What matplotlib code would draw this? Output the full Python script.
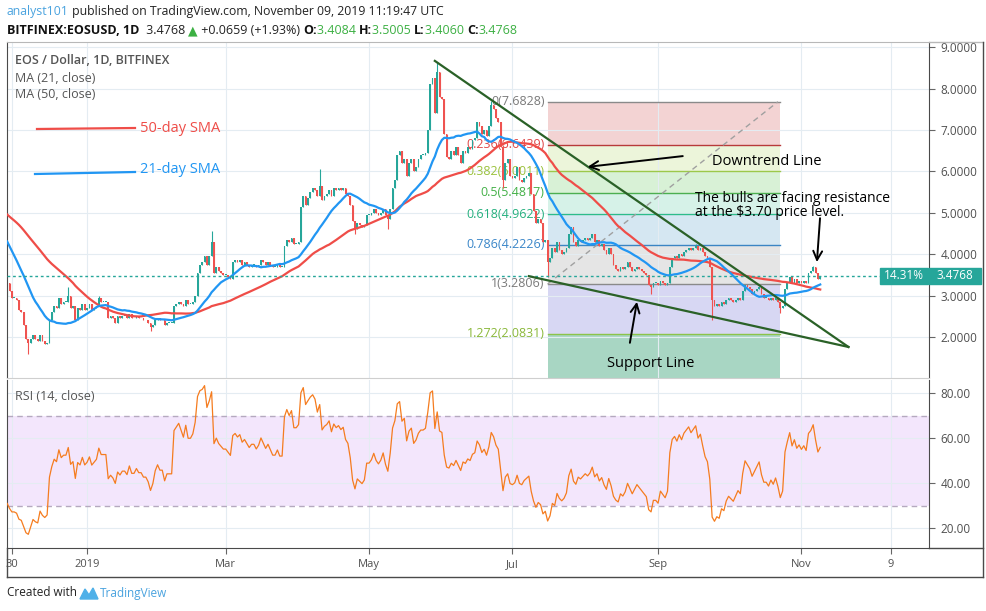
import matplotlib
matplotlib.use('Agg')
import matplotlib.pyplot as plt
import matplotlib.dates as mdates
import matplotlib.transforms as mtrans
from matplotlib.lines import Line2D
from matplotlib.patches import Rectangle, Polygon
import numpy as np
import pandas as pd

plt.rcParams['font.family'] = ['Open Sans', 'DejaVu Sans']

# daily closes (Oct/Nov 2018 only feed the moving averages and RSI)
oct18 = [5.75, 5.70, 5.30, 5.35, 5.40, 5.35, 5.65, 5.60, 5.55, 5.40,
         5.40, 5.45, 5.45, 5.40, 5.40, 5.45, 5.40, 5.40, 5.40, 5.40,
         5.20, 5.20, 5.25]  # from Oct 9
nov18 = [5.30, 5.40, 5.35, 5.50, 5.50, 5.60, 5.80, 5.55, 5.30, 5.35,
         5.30, 5.25, 5.15, 4.80, 4.75, 4.70, 4.70, 4.75, 4.10, 3.60,
         3.95, 3.60, 3.70, 3.20, 3.35, 3.05, 3.00, 3.30, 3.10, 2.95]
dec18 = [2.95, 2.90, 2.65, 2.60, 2.30, 1.95, 1.85, 1.95, 2.05, 1.95,
         1.90, 2.05, 1.90, 1.82, 1.85, 2.40, 2.60, 2.75, 2.70, 2.95,
         2.80, 2.85, 2.85, 3.00, 2.70, 2.75, 2.40, 2.70, 2.65, 2.80,
         2.65]
jan19 = [2.70, 2.80, 2.65, 2.70, 2.75, 2.95, 2.85, 2.85, 2.85, 2.45,
         2.50, 2.45, 2.35, 2.50, 2.45, 2.50, 2.50, 2.45, 2.55, 2.45,
         2.45, 2.50, 2.45, 2.45, 2.40, 2.40, 2.35, 2.25, 2.30, 2.40,
         2.45]
feb19 = [2.40, 2.40, 2.30, 2.35, 2.35, 2.35, 2.75, 2.80, 2.85, 2.80,
         2.75, 2.90, 2.80, 2.80, 2.85, 3.00, 3.55, 3.75, 3.80, 3.95,
         3.75, 3.95, 4.30, 3.55, 3.70, 3.60, 3.55, 3.50]
mar19 = [3.50, 3.45, 3.40, 3.80, 3.85, 3.80, 3.85, 3.75, 3.80, 3.75,
         3.70, 3.75, 3.75, 3.70, 3.75, 3.85, 3.80, 3.75, 3.80, 3.75,
         3.70, 3.70, 3.75, 3.70, 3.70, 4.20, 4.35, 4.30, 4.40, 4.25,
         4.25]
apr19 = [4.30, 5.15, 5.40, 5.20, 5.35, 5.50, 5.60, 5.55, 5.40, 5.65,
         5.30, 5.40, 5.45, 5.55, 5.40, 5.60, 5.55, 5.60, 5.55, 5.60,
         5.45, 5.40, 5.20, 4.80, 4.60, 4.75, 4.70, 4.65, 4.70, 4.95]
may19 = [4.95, 5.00, 5.10, 5.00, 4.95, 5.00, 5.10, 4.95, 4.85, 5.10,
         5.60, 5.80, 6.40, 6.50, 6.20, 6.30, 5.90, 6.20, 6.30, 6.00,
         6.10, 6.30, 6.40, 6.40, 6.45, 7.00, 8.10, 8.25, 7.40, 8.40,
         7.80]
jun19 = [7.75, 6.90, 6.35, 6.30, 6.50, 6.40, 6.60, 6.40, 6.20, 6.50,
         6.45, 6.60, 6.55, 6.75, 6.80, 7.20, 7.10, 6.90, 7.00, 6.85,
         7.10, 7.60, 7.50, 7.30, 7.20, 6.60, 5.80, 6.20, 6.30, 5.90]
jul19 = [5.85, 5.90, 6.10, 5.80, 5.75, 5.85, 5.90, 5.95, 5.45, 5.05,
         4.75, 4.85, 4.75, 4.30, 4.35, 3.80, 3.90, 4.15, 4.05, 4.30,
         4.10, 4.00, 4.05, 4.15, 4.50, 4.65, 4.30, 4.20, 4.35, 4.30,
         4.35]
aug19 = [4.40, 4.35, 4.40, 4.50, 4.30, 4.35, 4.20, 4.25, 4.10, 4.00,
         4.15, 4.00, 3.75, 3.65, 3.60, 3.70, 3.65, 3.70, 3.80, 3.70,
         3.60, 3.65, 3.70, 3.65, 3.60, 3.55, 3.50, 3.25, 3.20, 3.30,
         3.30]
sep19 = [3.25, 3.35, 3.30, 3.25, 3.30, 3.70, 3.90, 3.95, 3.90, 4.00,
         3.95, 4.05, 4.10, 4.15, 4.10, 4.15, 4.20, 4.10, 4.15, 4.05,
         3.95, 3.90, 3.70, 2.90, 2.75, 2.80, 2.75, 2.85, 2.80, 2.90]
oct19 = [2.95, 2.90, 2.85, 2.90, 2.95, 2.90, 3.10, 3.25, 3.20, 3.15,
         3.05, 3.10, 3.15, 3.20, 3.05, 2.95, 2.95, 2.90, 2.95, 2.90,
         2.95, 2.85, 2.70, 2.75, 3.15, 3.30, 3.45, 3.30, 3.40, 3.30,
         3.35]
nov19 = [3.30, 3.35, 3.30, 3.55, 3.60, 3.70, 3.55, 3.4109, 3.4768]

wick_lows = {'2018-12-07': 1.58, '2019-01-28': 2.15, '2019-04-25': 4.50,
             '2019-05-09': 4.60, '2019-06-27': 5.60, '2019-07-16': 3.45,
             '2019-08-29': 3.05, '2019-09-24': 2.40, '2019-10-23': 2.57}
wick_highs = {'2018-12-24': 3.20, '2019-01-06': 3.00, '2019-02-23': 4.55,
              '2019-04-10': 6.05, '2019-05-30': 8.65, '2019-06-22': 7.70,
              '2019-09-17': 4.25, '2019-11-06': 3.72}

first_shown = '2018-11-28'
last_price = 3.4768

fib_names = ['0', '0.236', '0.382', '0.5', '0.618', '0.786', '1', '1.272']
fib_prices = [7.6828, 6.6439, 6.0011, 5.4817, 4.9622, 4.2226, 3.2806, 2.0831]
fib_line_colors = ['#8a8a8a', '#b83a3a', '#9cc84a', '#4caf50', '#2dbd8a', '#3b85c4', '#8a8a8a', '#8cc34a']
fib_label_colors = ['#7a7a7a', '#e04848', '#9bc23c', '#43b047', '#25b07e', '#3a86c8', '#7a7a7a', '#8ab83a']
fib_band_colors = ['#f3d3d3', '#ecf5da', '#d8f1d6', '#d6f2e8', '#d5e7f2', '#e5e5e5', '#d7d7f3', '#a8d6c3']
fib_start, fib_end = '2019-07-16', '2019-10-23'

downtrend_dates = ['2019-05-29', '2019-11-21']
downtrend_prices = [8.67, 1.76]
support_dates = ['2019-07-08', '2019-11-21']
support_prices = [3.47, 1.76]

tick_dates = ['2018-11-30', '2019-01-01', '2019-03-01', '2019-05-01',
              '2019-07-01', '2019-09-01', '2019-11-01', '2019-12-09']
tick_labels = ['30', '2019', 'Mar', 'May', 'Jul', 'Sep', 'Nov', '9']

# ---- indicators
closes = np.array(oct18 + nov18 + dec18 + jan19 + feb19 + mar19 + apr19 + may19 +
                  jun19 + jul19 + aug19 + sep19 + oct19 + nov19)
df = pd.DataFrame({'close': closes},
                  index=pd.date_range('2018-10-09', periods=len(closes), freq='D'))
df['open'] = df['close'].shift(1).fillna(df['close'])
df['sma21'] = df['close'].rolling(21).mean()
df['sma50'] = df['close'].rolling(50).mean()
delta = df['close'].diff()
gain = delta.clip(lower=0).ewm(alpha=1 / 14, adjust=False).mean()
loss = (-delta.clip(upper=0)).ewm(alpha=1 / 14, adjust=False).mean()
df['rsi'] = 100 - 100 / (1 + gain / loss)
df['high'] = df[['open', 'close']].max(axis=1)
df['low'] = df[['open', 'close']].min(axis=1)
for d, v in wick_lows.items():
    df.loc[d, 'low'] = v
for d, v in wick_highs.items():
    df.loc[d, 'high'] = v
shown = df.loc[first_shown:]

# ---- figure layout (pixel based)
W, H = 987, 611
fig = plt.figure(figsize=(W / 100, H / 100), dpi=100)
fig.patch.set_facecolor('white')


def box(x0, y0, x1, y1):
    return [x0 / W, 1 - y1 / H, (x1 - x0) / W, (y1 - y0) / H]


L, R = 6.7, 929.5
ax = fig.add_axes(box(L, 42, R, 378))
rax = fig.add_axes(box(L, 380, R, 548))

jan1 = mdates.date2num(pd.Timestamp('2019-01-01'))
for a in (ax, rax):
    a.set_xlim(jan1 - 34.2, jan1 + 358.5)
    a.set_xticks(pd.to_datetime(tick_dates))
    a.set_axisbelow(True)
    a.grid(True, color='#e4ecf2', lw=0.8)
    a.yaxis.tick_right()
    a.tick_params(axis='y', length=4, color='#666', labelcolor='#505050', labelsize=8.5, pad=4)
    for s in a.spines.values():
        s.set_color('#4a4a4a')

ax.set_ylim(1.01, 9.126)
ax.set_yticks(range(2, 10))
ax.yaxis.set_major_formatter(plt.FormatStrFormatter('%.4f'))
ax.tick_params(axis='x', length=0, labelbottom=False)
ax.spines['top'].set_color('#b8b8b8')
ax.spines['bottom'].set_color('#cfcfcf')

# candles
up = shown['close'] >= shown['open']
cols = np.where(up, '#26a69a', '#ef5350')
body = (shown['close'] - shown['open']).abs().clip(lower=0.02)
ax.vlines(shown.index, shown['low'], shown['high'], colors=cols, lw=0.8, zorder=2)
ax.bar(shown.index, body, bottom=shown[['open', 'close']].min(axis=1),
       width=0.75, color=cols, linewidth=0, zorder=2)

# moving averages
ax.plot(shown.index, shown['sma50'], color='#ef4d48', lw=1.6, zorder=3)
ax.plot(shown.index, shown['sma21'], color='#2196f3', lw=1.6, zorder=3)

# fibonacci retracement
fx0, fx1 = pd.Timestamp(fib_start), pd.Timestamp(fib_end)
band_edges = fib_prices + [0.5]
for i, c in enumerate(fib_band_colors):
    ax.fill_between([fx0, fx1], band_edges[i + 1], band_edges[i], color=c, lw=0, zorder=0.3)
for p, name, lc, tc in zip(fib_prices, fib_names, fib_line_colors, fib_label_colors):
    ax.plot([fx0, fx1], [p, p], color=lc, lw=1, zorder=1)
    ax.text(fx0 - pd.Timedelta(hours=30), p, f'{name}({p:.4f})', color=tc, fontsize=9,
            ha='right', va='center', zorder=1)
ax.plot([fx0, pd.Timestamp('2019-10-22')], [fib_prices[-2], fib_prices[0]],
        color='#a0a0a0', lw=1, ls=(0, (4, 3)), zorder=1)

# trend lines
ax.plot(pd.to_datetime(downtrend_dates), downtrend_prices, color='#2a6127', lw=1.6, zorder=4)
ax.plot(pd.to_datetime(support_dates), support_prices, color='#2a6127', lw=1.6, zorder=4)

# last price line and labels
ax.axhline(last_price, color='#26a69a', lw=1, ls=(0, (2, 2)), zorder=3)
bt = mtrans.blended_transform_factory(ax.transAxes, ax.transData)
ax.add_patch(Rectangle((1.0, last_price - 0.195), 0.0555, 0.39, transform=bt,
                       color='#26a69a', clip_on=False, zorder=6))
ax.add_patch(Rectangle((0.9465, last_price - 0.195), 0.052, 0.39, transform=bt,
                       color='#26a69a', clip_on=False, zorder=6))
ax.text(1.028, last_price, f'{last_price:.4f}', transform=bt, color='white', fontsize=8.5,
        ha='center', va='center', zorder=7, clip_on=False)
ax.text(0.9725, last_price, '14.31%', transform=bt, color='white', fontsize=8.5,
        ha='center', va='center', zorder=7)

# annotations
arrow = dict(arrowstyle='->', color='black', lw=1.4, mutation_scale=16, shrinkA=0, shrinkB=0)
ax.annotate('', xy=(pd.Timestamp('2019-08-02'), 6.11), xytext=(pd.Timestamp('2019-09-11 12:00'), 6.37),
            arrowprops=arrow, zorder=5)
ax.annotate('', xy=(pd.Timestamp('2019-08-23'), 2.85), xytext=(pd.Timestamp('2019-08-20'), 1.86),
            arrowprops=arrow, zorder=5)
ax.annotate('', xy=(pd.Timestamp('2019-11-07 14:00'), 3.81), xytext=(pd.Timestamp('2019-11-08 22:00'), 4.87),
            arrowprops=arrow, zorder=5)
ax.text(pd.Timestamp('2019-09-24'), 6.23, 'Downtrend Line', fontsize=10.5, va='center', zorder=5)
ax.text(pd.Timestamp('2019-08-29'), 1.35, 'Support Line', fontsize=10.5, ha='center', va='center', zorder=5)
ax.text(pd.Timestamp('2019-09-16 16:00'), 5.18, 'The bulls are facing resistance\nat the $3.70 price level.',
        fontsize=10, va='center', linespacing=0.95, zorder=5)

# RSI pane
rax.set_ylim(11.2, 85.9)
rax.set_yticks([20, 40, 60, 80])
rax.yaxis.set_major_formatter(plt.FormatStrFormatter('%.2f'))
rax.axhspan(30, 70, color='#f3e6fc', lw=0, zorder=0.2)
for lvl in (30, 70):
    rax.axhline(lvl, color='#b5a9bf', lw=1, ls=(0, (4, 3)), zorder=1)
rax.plot(shown.index, shown['rsi'], color='#f57c1f', lw=0.9, zorder=3)
rax.set_xticklabels(tick_labels)
rax.tick_params(axis='x', length=4, color='#666', labelcolor='#505050', labelsize=8, pad=4)
rax.spines['top'].set_visible(False)
rax.text(0.009, 0.9, 'RSI (14, close)', transform=rax.transAxes, fontsize=9, color='#555', va='center')

# frame around price/time scales
frame = dict(color='#4a4a4a', lw=1)
fig.add_artist(Line2D([R / W, 983 / W], [1 - 42 / H, 1 - 42 / H], color='#b8b8b8', lw=1))
fig.add_artist(Line2D([983 / W, 983 / W], [1 - 42 / H, 1 - 577 / H], **frame))
fig.add_artist(Line2D([L / W, 983 / W], [1 - 577 / H, 1 - 577 / H], **frame))
fig.add_artist(Line2D([L / W, L / W], [1 - 548 / H, 1 - 577 / H], **frame))
fig.add_artist(Line2D([R / W, 983 / W], [1 - 548 / H, 1 - 548 / H], **frame))

# pane legend
fig.text(15 / W, 1 - 60 / H, 'EOS / Dollar, 1D, BITFINEX', fontsize=9, color='#555',
         fontweight='semibold', va='center')
fig.text(15 / W, 1 - 78 / H, 'MA (21, close)', fontsize=9, color='#555', va='center')
fig.text(15 / W, 1 - 95 / H, 'MA (50, close)', fontsize=9, color='#555', va='center')
fig.add_artist(Line2D([37 / W, 135 / W], [1 - 129 / H, 1 - 128 / H], color='#ef4d48', lw=1.6))
fig.add_artist(Line2D([35 / W, 135 / W], [1 - 174 / H, 1 - 172 / H], color='#2196f3', lw=1.6))
fig.text(140 / W, 1 - 128 / H, '50-day SMA', fontsize=10.5, color='#ef4d48', va='center')
fig.text(140 / W, 1 - 170 / H, '21-day SMA', fontsize=10.5, color='#2196f3', va='center')

# header and footer text runs
renderer = fig.canvas.get_renderer()


def text_run(x, y, pieces, size):
    for s, color, weight in pieces:
        t = fig.text(x / W, 1 - y / H, s, color=color, fontsize=size, fontweight=weight,
                     va='center', ha='left')
        x += t.get_window_extent(renderer=renderer).width
    return x


green = '#3cb043'
text_run(7, 12, [('analyst101', '#4aa3df', 'normal'),
                 (' published on TradingView.com, November 09, 2019 11:19:47 UTC', '#222', 'normal')], 8.8)
text_run(7, 31, [('BITFINEX:EOSUSD, 1D ', '#111', 'bold'), (' 3.4768 ', '#222', 'normal'),
                 ('\u25b2', green, 'normal'), (' +0.0659 (+1.93%) ', '#222', 'normal'),
                 ('O:', '#111', 'bold'), ('3.4084 ', green, 'normal'),
                 ('H:', '#111', 'bold'), ('3.5005 ', green, 'normal'),
                 ('L:', '#111', 'bold'), ('3.4060 ', green, 'normal'),
                 ('C:', '#111', 'bold'), ('3.4768', green, 'normal')], 9)

xe = text_run(7, 593, [('Created with', '#222', 'normal')], 8.5)
logo = [(xe + 3, 599), (xe + 8, 589), (xe + 12, 595), (xe + 16, 588), (xe + 21, 599)]
fig.add_artist(Polygon([(px / W, 1 - py / H) for px, py in logo], closed=True,
                       color='#4fb0e8', transform=fig.transFigure))
text_run(xe + 23, 593, [('TradingView', '#4aa3df', 'normal')], 8.5)

fig.savefig('out.png', dpi=100, facecolor='white')
